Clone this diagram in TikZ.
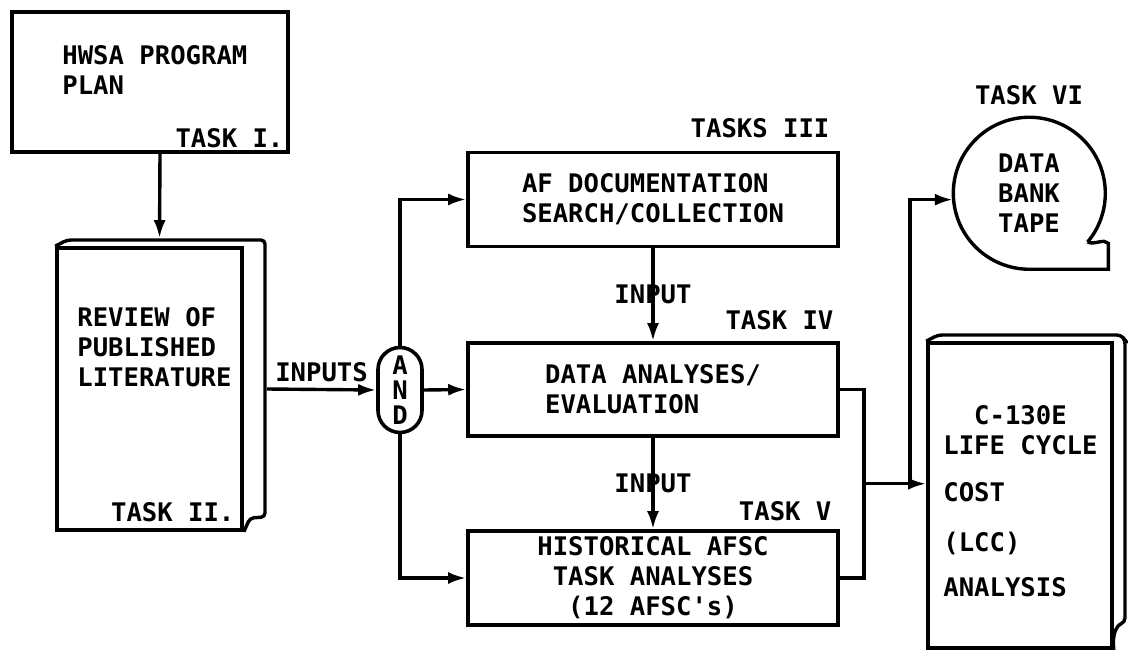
\documentclass[tikz,border=0pt]{standalone}
\usepackage{fontspec}
\setmonofont{DejaVu Sans Mono}
\usetikzlibrary{arrows.meta,calc,positioning}

\begin{document}
\begin{tikzpicture}[x=0.5pt, y=-0.5pt,
  every node/.style={font=\ttfamily\bfseries\fontsize{12.8}{15}\selectfont},
  box/.style={draw, line width=1.8pt, inner sep=0pt},
  taskbox/.style={box, minimum width=185pt, minimum height=47pt, align=left},
  txt/.style={anchor=north west, inner sep=0pt, align=left},
  tasklbl/.style={anchor=south east, inner sep=0pt},
  link/.style={line width=1.7pt},
  arr/.style={link, -{Latex[length=9pt,width=6pt]}}]

\useasboundingbox (0,0) rectangle (1128,652);

% task I
\node[box, minimum width=138pt, minimum height=70pt] (plan) at (150,82) {};
\node[txt] (plantxt) at (62,45) {HWSA PROGRAM\\PLAN};
\node[tasklbl] (task1) at ([xshift=-3pt,yshift=3pt]plan.south east) {TASK I.};

% task II (book)
\node[box, minimum width=92.5pt, minimum height=141pt] (lit) at (149.5,389) {};
\draw[link, rounded corners=2pt] (lit.north west) -- (67,240) -- (265,240) -- (265,517) -- (250,518) -- (lit.south east);
\node[txt] (littxt) at (77,307) {REVIEW OF\\PUBLISHED\\LITERATURE};
\node[tasklbl] (task2) at ([xshift=-4.5pt,yshift=5pt]lit.south east) {TASK II.};

% and
\node[box, rounded corners=11pt, minimum width=22pt, minimum height=42.5pt, align=center,
  font=\ttfamily\bfseries\fontsize{12.8}{12.5}\selectfont] (and) at (400,390) {A\\N\\D};

% tasks III - V
\node[taskbox] (docs) at (653,199.5) {AF DOCUMENTATION\\SEARCH/COLLECTION};
\node[tasklbl] (task3) at ([xshift=-5pt,yshift=6pt]docs.north east) {TASKS III};
\node[taskbox, minimum height=46.5pt] (anal) at (653,389.5) {DATA ANALYSES/\\EVALUATION};
\node[tasklbl] (task4) at ([xshift=-3pt,yshift=5.5pt]anal.north east) {TASK IV};
\node[taskbox, align=center] (hist) at (653,578) {HISTORICAL AFSC\\TASK ANALYSES\\(12 AFSC's)};
\node[tasklbl] (task5) at ([xshift=-4pt,yshift=4pt]hist.north east) {TASK V};

% task VI (tape)
\node[circle, minimum size=76pt, inner sep=0pt, align=center] (tape) at (1029,193) {DATA\\BANK\\TAPE};
\draw[link] (tape.-40) arc[start angle=-40, end angle=270, radius=38pt] -- ++(79,0) -- ++(0,-26)
  .. controls +(-5,-5) and +(8,3) .. (tape.-40);
\node[above=5.5pt of tape, inner sep=0pt] (task6) {TASK VI};

% C-130E LCC (book)
\node[box, minimum width=92pt, minimum height=152.5pt] (cost) at (1020,495.5) {};
\draw[link, rounded corners=2pt] (cost.north west) -- (938,335) -- (1121,335) -- (1125,340) -- (1125,622)
  .. controls (1116,626) and (1112,635) .. (cost.south east);
\node[txt] (costtxt) at (943,405) {\phantom{LI}C-130E\\LIFE CYCLE\\[8.5pt]COST\\[10pt](LCC)\\[7.5pt]ANALYSIS};

% connectors
\draw[arr] ([xshift=5pt]plan.south) -- ([xshift=5pt,yshift=4pt]lit.north);
\draw[arr] ([xshift=11.5pt]lit.east) -- node[above, inner sep=3pt] (inputs) {INPUTS} (and.west);
\draw[arr] (and.north) |- (docs.west);
\draw[arr] (and.east) -- (anal.west);
\draw[arr] (and.south) |- (hist.west);
\draw[arr] (docs.south) -- node[inner sep=0pt] (in1) {INPUT} (anal.north);
\draw[arr] (anal.south) -- node[inner sep=0pt] (in2) {INPUT} (hist.north);

\draw[link] (anal.east) -- ++(24,0) |- (hist.east);
\coordinate (merge) at ($(anal.east)!0.5!(hist.east) + (24,0)$);
\coordinate (fork) at ($(merge) + (46,0)$);
\draw[arr] (merge) -- (merge -| cost.west);
\draw[arr] (fork) |- (tape.185);

\end{tikzpicture}
\end{document}
